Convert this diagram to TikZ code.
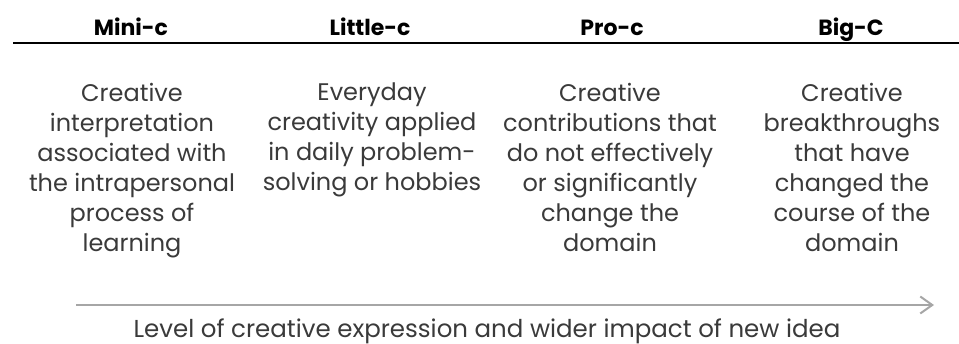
\documentclass[tikz,border=0pt]{standalone}
\usepackage{fontspec}
\setmainfont{Poppins}
\usepackage{tikz}
\usetikzlibrary{arrows.meta}

\definecolor{bodygray}{HTML}{3A3A3A}
\definecolor{arrowgray}{HTML}{A6A6A6}

\tikzset{
  head/.style={anchor=base, inner sep=0pt, font=\fontsize{22}{26}\selectfont\bfseries},
  desc/.style={anchor=north, inner sep=0pt, align=center, text=bodygray,
    font=\fontsize{24}{30}\selectfont}
}

\begin{document}
\begin{tikzpicture}[x=1pt, y=-1pt]
    \useasboundingbox (0, 0) rectangle (959, 343);
    \node[head] (mini) at (131, 35){Mini-c};
    \node[head] (little) at (370, 35){Little-c};
    \node[head] (pro) at (612, 35){Pro-c};
    \node[head] (big) at (851, 35){Big-C};
    \coordinate (ruleL) at (13, 42.5);
    \coordinate (ruleR) at (959, 42.5);
    \draw[line width=2pt] (ruleL)--(ruleR);
    \node[desc] (miniD) at (132, 83){Creative\\interpretation\\associated with\\the intrapersonal\\process of\\learning};
    \node[desc] (littleD) at (372, 83){Everyday\\creativity applied\\in daily problem-\\solving or hobbies};
    \node[desc] (proD) at (610, 83){Creative\\contributions that\\do not effectively\\or significantly\\change the\\domain};
    \node[desc] (bigD) at (852, 83){Creative\\breakthroughs\\that have\\changed the\\course of the\\domain};
    \coordinate (arrowL) at (76, 305);
    \coordinate (arrowR) at (934, 305);
    \draw[arrowgray, line width=2pt, -{Straight Barb[length=12pt, width=17pt, line width=2pt]}] (arrowL)--(arrowR);
    \node[desc, anchor=base, font=\fontsize{24.5}{30}\selectfont] (level) at (487, 337){Level of creative expression and wider impact of new idea};
  \end{tikzpicture}
\end{document}
